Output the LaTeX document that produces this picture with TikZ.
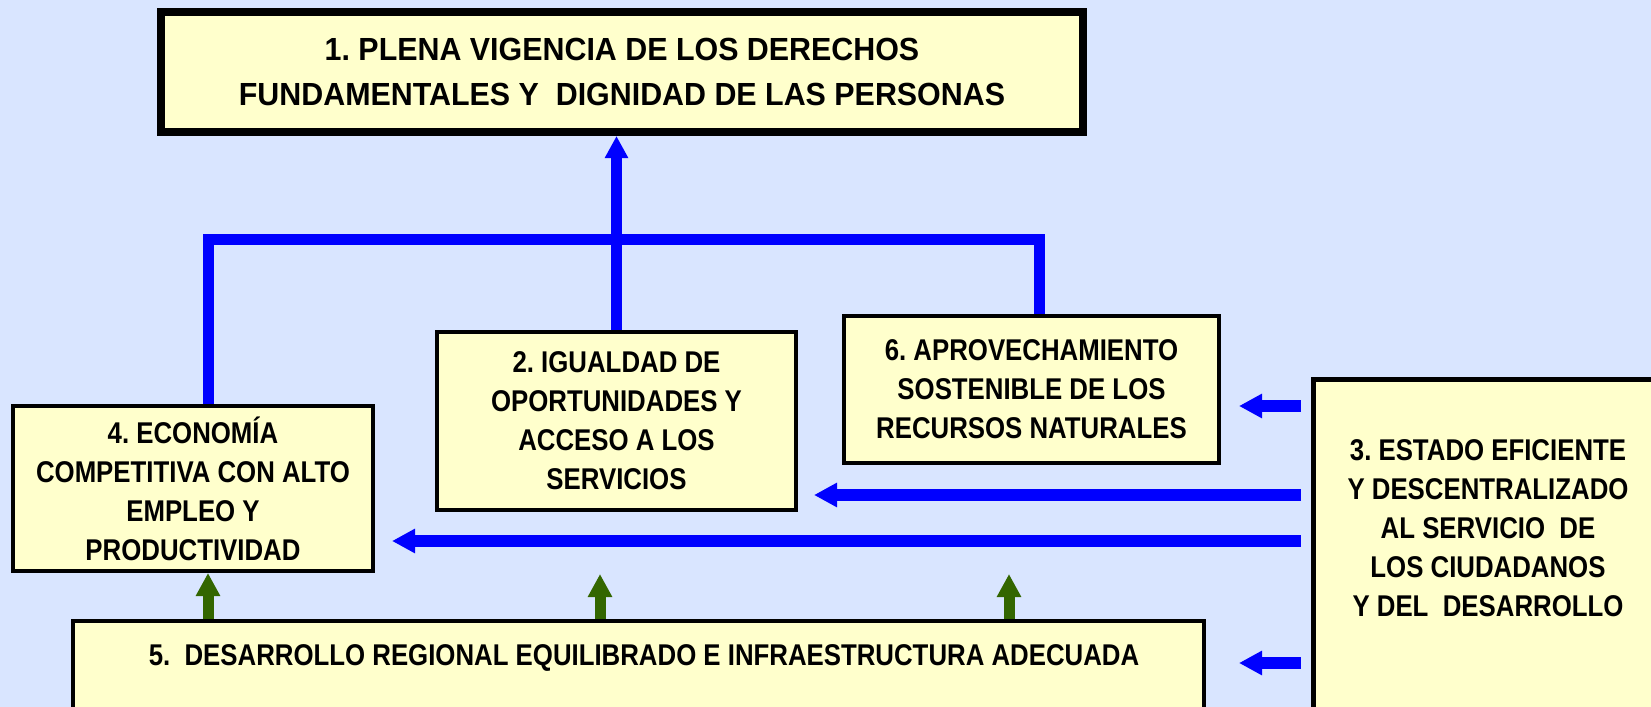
\documentclass[tikz,border=0pt]{standalone}
\usepackage{fontspec}
\setmainfont[FakeStretch=0.86]{Liberation Sans}
\newfontfamily\widefont[FakeStretch=0.95]{Liberation Sans}
\usetikzlibrary{arrows.meta}
\usetikzlibrary{positioning}
\definecolor{bgblue}{HTML}{D9E5FF}
\definecolor{boxyellow}{HTML}{FFFFCC}
\definecolor{linkblue}{HTML}{0000FF}
\definecolor{linkgreen}{HTML}{336600}
\frenchspacing

\begin{document}
\begin{tikzpicture}[x=0.5pt,y=-0.5pt,
    box/.style={draw=black, fill=boxyellow, line width=2pt, inner sep=0pt,
      align=center, font=\bfseries\fontsize{15}{19.5}\selectfont},
    lbl/.style={inner sep=0pt, align=center, font=\bfseries\fontsize{15}{19.5}\selectfont},
    tree/.style={draw=linkblue, line width=5.5pt},
    link/.style={draw=linkblue, line width=6pt, -{Triangle[length=11.5pt,width=11.5pt]}},
    uplink/.style={draw=linkgreen, line width=5.5pt, -{Triangle[length=11.5pt,width=11.5pt]}}]
        \path[use as bounding box, clip] (0,0) rectangle (1651,707);
        \fill[bgblue] (0,0) rectangle (1651,707);
        % Boxes
        \node[box, line width=4pt, minimum width=461pt, minimum height=60pt,
          font=\widefont\bfseries\fontsize{16}{22.5}\selectfont] (derechos) at (622,72)
          {1. PLENA VIGENCIA DE LOS DERECHOS\\FUNDAMENTALES Y\ \ DIGNIDAD DE LAS PERSONAS};
        \node[box, minimum width=179.5pt, minimum height=89pt] (igualdad) at (616.5,421)
          {2. IGUALDAD DE\\OPORTUNIDADES Y\\ACCESO A LOS\\SERVICIOS};
        \node[box, minimum width=187.5pt, minimum height=73.5pt] (recursos) at (1031.5,389.5)
          {6. APROVECHAMIENTO\\SOSTENIBLE DE LOS\\RECURSOS NATURALES};
        \node[box, minimum width=180pt, minimum height=82.5pt] (economia) at (193,488.5)
          {4. ECONOMÍA\\COMPETITIVA CON ALTO\\EMPLEO Y\\PRODUCTIVIDAD};
        \node[box, anchor=north, minimum width=565.5pt, minimum height=100pt] (regional) at (638.5,619) {};
        \node[lbl] (regionaltxt) at (644,658)
          {5.\ \ DESARROLLO REGIONAL EQUILIBRADO E INFRAESTRUCTURA ADECUADA};
        \node[box, line width=2.5pt, anchor=north, minimum width=174.75pt, minimum height=200pt] (estado) at (1488,376.5) {};
        \node[lbl] (estadotxt) at (1488,528)
          {3. ESTADO EFICIENTE\\Y DESCENTRALIZADO\\AL SERVICIO\ \ DE\\LOS CIUDADANOS\\Y DEL\ \ DESARROLLO};
        % Tree to box 1
        \coordinate (jl) at (208,239);
        \coordinate (jr) at (1039,239);
        \draw[tree] (jl |- economia.north) -- (jl) -- (jr) -- (jr |- recursos.north);
        \draw[tree, -{Triangle[length=11pt,width=11pt]}] (igualdad.north) -- (igualdad.north |- derechos.south);
        % Arrows from box 3
        \draw[link, shorten <=5pt, shorten >=9pt] (estado.west |- 0,406) -- (recursos.east |- 0,406);
        \draw[link, shorten <=5pt, shorten >=8pt] (estado.west |- 0,495) -- (igualdad.east |- 0,495);
        \draw[link, shorten <=5pt, shorten >=8.5pt] (estado.west |- 0,541) -- (economia.east |- 0,541);
        \draw[link, shorten <=5pt, shorten >=16.5pt] (estado.west |- 0,663) -- (regional.east |- 0,663);
        % Arrows from box 5
        \coordinate (g2) at (600,574);
        \coordinate (g3) at (1009,574);
        \draw[uplink] (jl |- regional.north) -- (jl |- economia.south);
        \draw[uplink] (g2 |- regional.north) -- (g2);
        \draw[uplink] (g3 |- regional.north) -- (g3);
    \end{tikzpicture}
\end{document}
